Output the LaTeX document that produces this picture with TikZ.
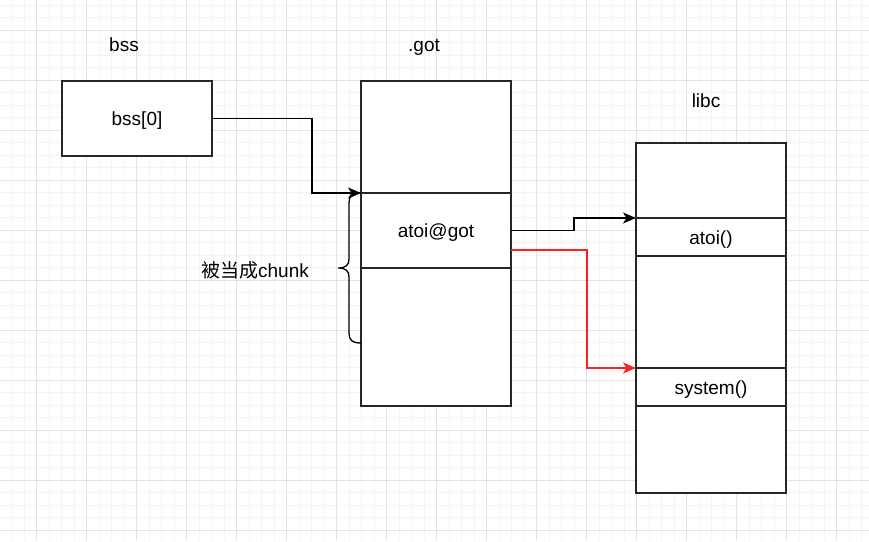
\documentclass[tikz,border=0pt]{standalone}
\usepackage{fontspec}
\setmainfont{Liberation Sans}
\newfontfamily\cjk{Noto Sans CJK SC}
\usetikzlibrary{arrows.meta}
\definecolor{gridminor}{HTML}{F4F4F4}
\definecolor{gridmajor}{HTML}{E2E2E2}
\definecolor{redline}{HTML}{FF2020}
\tikzset{
  cell/.style={draw=black!85, line width=1.3pt, fill=white, inner sep=0pt, outer sep=0pt,
    minimum width=150pt, font=\fontsize{19}{22}\selectfont, text height=17pt, text depth=3pt},
  lbl/.style={font=\fontsize{19}{22}\selectfont, inner sep=0pt, text height=17pt, text depth=3pt},
  conn/.style={line width=1.3pt, -{Stealth[length=13pt,width=11pt,inset=3.5pt]}},
}
\begin{document}
\begin{tikzpicture}[x=1pt,y=-1pt]
\useasboundingbox (0,0) rectangle (869,541);
\fill[white] (0,0) rectangle (869,541);
% grid
\foreach \i in {0,...,70} {\draw[gridminor, line width=0.8pt] ({11.7+12.5*\i},0) -- ({11.7+12.5*\i},541);}
\foreach \i in {0,...,43} {\draw[gridminor, line width=0.8pt] (0,{5+12.5*\i}) -- (869,{5+12.5*\i});}
\foreach \i in {0,...,17} {\draw[gridmajor, line width=0.8pt] ({36.7+50*\i},0) -- ({36.7+50*\i},541);}
\foreach \i in {0,...,10} {\draw[gridmajor, line width=0.8pt] (0,{30+50*\i}) -- (869,{30+50*\i});}

% titles
\node[lbl] (tbss) at (124,44) {bss};
\node[lbl] (tgot) at (424,44) {.got};
\node[lbl] (tlibc) at (706,100) {libc};

% bss box
\node[cell, minimum height=75pt] (bss0) at (137,118.5) {bss[0]};

% got table
\node[cell, minimum height=112pt] (got1) at (436,137) {};
\node[cell, minimum height=75pt] (got2) at (436,230.5) {atoi@got};
\node[cell, minimum height=138pt] (got3) at (436,337) {};

% libc table
\node[cell, minimum height=75pt] (l1) at (711,180.5) {};
\node[cell, minimum height=38pt] (l2) at (711,237) {atoi()};
\node[cell, minimum height=112pt] (l3) at (711,312) {};
\node[cell, minimum height=38pt] (l4) at (711,387) {system()};
\node[cell, minimum height=87pt] (l5) at (711,449.5) {};

% connectors
\coordinate (c1) at (312,193);
\draw[conn] (bss0.east) -| (c1) -- (got2.north west);
\coordinate (c2) at (574,218);
\draw[conn] (got2.east) -| (c2) -- (l2.north west);
\coordinate (c3s) at (511,250);
\coordinate (c3) at (587,368);
\draw[conn, redline] (c3s) -| (c3) -- (l4.north west);

% brace
\coordinate (bt) at (361,193);
\coordinate (bb) at (361,343);
\coordinate (btip) at (338,268);
\draw[line width=1.3pt] (bt) .. controls (352,193) and (349,196) .. (349,203)
  -- (349,259) .. controls (349,265) and (346,268) .. (btip)
  .. controls (346,268) and (349,271) .. (349,277)
  -- (349,333) .. controls (349,340) and (352,343) .. (bb);

% brace label
\node[lbl] (chunk) at (255,270) {{\cjk 被当成}chunk};
\end{tikzpicture}
\end{document}
